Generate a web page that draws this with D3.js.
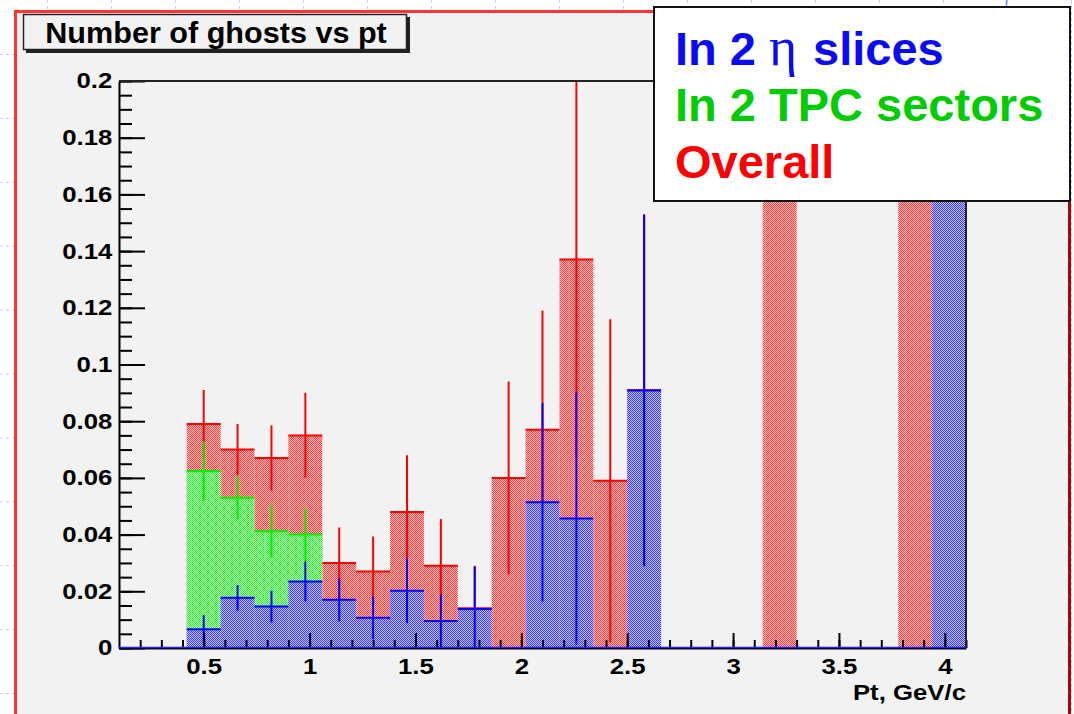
<!DOCTYPE html>
<html>
<head>
<meta charset="utf-8">
<script src="https://cdn.jsdelivr.net/npm/d3@7"></script>
<style>
  body { margin: 0; background: #fff; }
  svg { display: block; }
  text { font-family: "Liberation Sans", Arial, Helvetica, sans-serif; font-weight: bold; }
</style>
</head>
<body>
<div id="chart"></div>
<script>
// pt bins: lower edges, all bins 0.16 GeV/c wide
const binLow = [0.10, 0.26, 0.42, 0.58, 0.74, 0.90, 1.06, 1.22, 1.38, 1.54, 1.70, 1.86, 2.02,
                2.18, 2.34, 2.50, 2.66, 2.82, 2.98, 3.14, 3.30, 3.46, 3.62, 3.78, 3.94];
const binWidth = 0.16;

// Overall (red)
const overall = [0, 0, 0.079, 0.070, 0.067, 0.075, 0.030, 0.027, 0.048, 0.029, 0.014, 0.060, 0.077,
                 0.137, 0.059, 0.091, 0, 0, 0, 1, 0, 0, 0, 1, 1];
const overallErr = [0, 0, 0.012, 0.009, 0.0115, 0.015, 0.0125, 0.0123, 0.020, 0.0165, 0.015, 0.034, 0.042,
                    0.070, 0.057, 0.062, 0, 0, 0, 0, 0, 0, 0, 0, 0];

// In 2 TPC sectors (green)
const tpc = [0, 0, 0.0624, 0.0530, 0.0412, 0.0400, 0, 0, 0, 0, 0, 0, 0,
             0, 0, 0, 0, 0, 0, 0, 0, 0, 0, 0, 0];
const tpcErr = [0, 0, 0.0105, 0.0076, 0.0094, 0.0095, 0, 0, 0, 0, 0, 0, 0,
                0, 0, 0, 0, 0, 0, 0, 0, 0, 0, 0, 0];

// In 2 eta slices (blue)
const eta = [0, 0, 0.0066, 0.0177, 0.0146, 0.0235, 0.0170, 0.0107, 0.0202, 0.0095, 0.0138, 0, 0.0514,
             0.0457, 0, 0.0908, 0, 0, 0, 0, 0, 0, 0, 0, 1];
const etaErr = [0, 0, 0.005, 0.0045, 0.0056, 0.0070, 0.0076, 0.0076, 0.0114, 0.0094, 0.0149, 0, 0.035,
                0.0445, 0, 0.062, 0, 0, 0, 0, 0, 0, 0, 0, 0];

const xTickVals = [0.5, 1, 1.5, 2, 2.5, 3, 3.5, 4];
const xTickLabels = ["0.5", "1", "1.5", "2", "2.5", "3", "3.5", "4"];
const yTickVals = [0, 0.02, 0.04, 0.06, 0.08, 0.1, 0.12, 0.14, 0.16, 0.18, 0.2];
const yTickLabels = ["0", "0.02", "0.04", "0.06", "0.08", "0.1", "0.12", "0.14", "0.16", "0.18", "0.2"];

const title = "Number of ghosts vs pt";
const xTitle = "Pt, GeV/c";

let width = 1074;
let height = 714;
let frameL = 119, frameR = 966, frameT = 81, frameB = 648;
let stretch = 1.12;

let svg = d3.select("#chart")
    .append("svg")
    .attr("width", width)
    .attr("height", height);

// slide background with faint dashed grid
svg.append("rect").attr("width", width).attr("height", height).attr("fill", "#fff");
let grid = svg.append("g").attr("stroke", "#c4ccf2").attr("stroke-width", 1).attr("stroke-dasharray", "3,3");
for (let gx = 47; gx < width; gx += 64) {
    grid.append("line").attr("x1", gx + 0.5).attr("x2", gx + 0.5).attr("y1", 0).attr("y2", height);
}
for (let gy = 54; gy < height; gy += 63.9) {
    grid.append("line").attr("x1", 0).attr("x2", width).attr("y1", gy + 0.5).attr("y2", gy + 0.5);
}
svg.append("line").attr("x1", 1006.5).attr("x2", 1006.5).attr("y1", 0).attr("y2", 8)
    .attr("stroke", "#7090ff").attr("stroke-width", 1.5);

// pad
svg.append("rect")
    .attr("x", 15).attr("y", 11.5)
    .attr("width", 1054).attr("height", 720)
    .attr("fill", "#f2f2f2");
svg.append("line").attr("x1", 15.5).attr("x2", 15.5).attr("y1", 10).attr("y2", height)
    .attr("stroke", "#ff3333").attr("stroke-width", 3);
svg.append("line").attr("x1", 14).attr("x2", 1070).attr("y1", 11.5).attr("y2", 11.5)
    .attr("stroke", "#ff3333").attr("stroke-width", 3);
svg.append("line").attr("x1", 1069.5).attr("x2", 1069.5).attr("y1", 11).attr("y2", height)
    .attr("stroke", "#b00000").attr("stroke-width", 3);

// dithered fills like ROOT
let defs = svg.append("defs");
function dither(id, full, light) {
    let p = defs.append("pattern")
        .attr("id", id)
        .attr("patternUnits", "userSpaceOnUse")
        .attr("width", 2).attr("height", 2);
    p.append("rect").attr("width", 2).attr("height", 2).attr("fill", light);
    p.append("rect").attr("width", 1).attr("height", 1).attr("fill", full);
    p.append("rect").attr("x", 1).attr("y", 1).attr("width", 1).attr("height", 1).attr("fill", full);
}
dither("fillRed", "#ff3c3c", "#ffc0c0");
dither("fillGreen", "#30ee30", "#b8ffb8");
dither("fillBlue", "#3c3cff", "#c0c0ff");

defs.append("clipPath").attr("id", "plotClip")
    .append("rect")
    .attr("x", frameL).attr("y", frameT)
    .attr("width", frameR - frameL).attr("height", frameB - frameT);

let x = d3.scaleLinear().domain([0.1, 4.1]).range([frameL, frameR]);
let y = d3.scaleLinear().domain([0, 0.2]).range([frameB, frameT]);

let plot = svg.append("g").attr("clip-path", "url(#plotClip)");

function drawHist(vals, errs, fillId, color) {
    let data = binLow.map((x0, i) => ({ x0: x0, v: vals[i], e: errs[i] }))
        .filter(d => d.v > 0);
    let g = plot.append("g");
    g.selectAll("rect")
        .data(data)
        .enter()
        .append("rect")
        .attr("x", d => x(d.x0))
        .attr("width", d => x(d.x0 + binWidth) - x(d.x0))
        .attr("y", d => y(d.v))
        .attr("height", d => y(0) - y(d.v))
        .attr("fill", "url(#" + fillId + ")");
    g.selectAll(".top")
        .data(data)
        .enter()
        .append("line")
        .attr("class", "top")
        .attr("x1", d => x(d.x0))
        .attr("x2", d => x(d.x0 + binWidth))
        .attr("y1", d => y(d.v))
        .attr("y2", d => y(d.v))
        .attr("stroke", color)
        .attr("stroke-width", 2);
    g.selectAll(".err")
        .data(data.filter(d => d.e > 0))
        .enter()
        .append("line")
        .attr("class", "err")
        .attr("x1", d => x(d.x0 + binWidth / 2))
        .attr("x2", d => x(d.x0 + binWidth / 2))
        .attr("y1", d => y(d.v - d.e))
        .attr("y2", d => y(d.v + d.e))
        .attr("stroke", color)
        .attr("stroke-width", 2);
}

drawHist(overall, overallErr, "fillRed", "#ff0000");
drawHist(tpc, tpcErr, "fillGreen", "#00ee00");
drawHist(eta, etaErr, "fillBlue", "#0000ff");

// axes (ticks point into the frame)
function styleAxis(g) {
    g.attr("font-size", 23).attr("font-family", null);
    g.select(".domain").attr("stroke-width", 2).attr("stroke", "#000");
    g.selectAll(".tick line").attr("stroke-width", 2);
}

let yMinor = d3.axisLeft(y)
    .tickValues(d3.range(0, 0.2001, 0.005))
    .tickFormat("")
    .tickSizeInner(-13)
    .tickSizeOuter(0);
svg.append("g")
    .attr("transform", "translate(" + frameL + ",0)")
    .call(yMinor)
    .call(g => g.select(".domain").remove())
    .selectAll(".tick line").attr("stroke-width", 2);

let yAxis = d3.axisLeft(y)
    .tickValues(yTickVals)
    .tickFormat((d, i) => yTickLabels[i])
    .tickSizeInner(-26)
    .tickSizeOuter(0)
    .tickPadding(6);
svg.append("g")
    .attr("class", "axis y-axis")
    .attr("transform", "translate(" + frameL + ",0)")
    .call(yAxis)
    .call(styleAxis)
    .selectAll("text")
    .attr("dy", "0.3em")
    .attr("transform", "scale(" + stretch + ",1)");

let xMinor = d3.axisBottom(x)
    .tickValues(d3.range(0.2, 4.101, 0.1))
    .tickFormat("")
    .tickSizeInner(-8)
    .tickSizeOuter(0);
svg.append("g")
    .attr("transform", "translate(0," + frameB + ")")
    .call(xMinor)
    .call(g => g.select(".domain").remove())
    .selectAll(".tick line").attr("stroke-width", 2);

let xAxis = d3.axisBottom(x)
    .tickValues(xTickVals)
    .tickFormat((d, i) => xTickLabels[i])
    .tickSizeInner(-15)
    .tickSizeOuter(0)
    .tickPadding(10);
svg.append("g")
    .attr("class", "axis x-axis")
    .attr("transform", "translate(0," + frameB + ")")
    .call(xAxis)
    .call(styleAxis)
    .selectAll("text")
    .attr("transform", "scale(" + stretch + ",1)");

// histogram zero line
svg.append("line")
    .attr("x1", frameL).attr("x2", frameR)
    .attr("y1", frameB - 0.5).attr("y2", frameB - 0.5)
    .attr("stroke", "#2020ff").attr("stroke-width", 1.5);

// frame top and right
svg.append("path")
    .attr("d", "M" + frameL + "," + frameT + "H" + frameR + "V" + frameB)
    .attr("fill", "none")
    .attr("stroke", "#222")
    .attr("stroke-width", 2);

svg.append("text")
    .text(xTitle)
    .attr("text-anchor", "end")
    .attr("font-size", 23)
    .attr("transform", "translate(966,700) scale(" + stretch + ",1)");

// title box
svg.append("rect")
    .attr("x", 26).attr("y", 17)
    .attr("width", 384).attr("height", 36)
    .attr("fill", "#222");
svg.append("rect")
    .attr("x", 23.5).attr("y", 14.5)
    .attr("width", 383).attr("height", 35)
    .attr("fill", "#f2f2f2")
    .attr("stroke", "#222")
    .attr("stroke-width", 1.5);
svg.append("text")
    .text(title)
    .attr("text-anchor", "middle")
    .attr("font-size", 29)
    .attr("transform", "translate(216,43) scale(1.055,1)");

// legend box
let legend = svg.append("g");
legend.append("rect")
    .attr("x", 654).attr("y", 7)
    .attr("width", 416).attr("height", 194)
    .attr("fill", "#fff")
    .attr("stroke", "#111")
    .attr("stroke-width", 2);

let l1 = legend.append("text")
    .attr("x", 675).attr("y", 65)
    .attr("font-size", 47)
    .attr("fill", "#0a0af5");
l1.append("tspan").text("In 2 ");
l1.append("tspan")
    .text("η")
    .attr("font-family", "'Liberation Serif', 'DejaVu Serif', serif")
    .attr("font-weight", "normal")
    .attr("font-size", 54);
l1.append("tspan").attr("x", 813).text("slices");

legend.append("text")
    .text("In 2 TPC sectors")
    .attr("x", 675).attr("y", 121)
    .attr("font-size", 47)
    .attr("fill", "#00cc00");

legend.append("text")
    .text("Overall")
    .attr("x", 675).attr("y", 178)
    .attr("font-size", 47)
    .attr("fill", "#ff0000");
</script>
</body>
</html>
